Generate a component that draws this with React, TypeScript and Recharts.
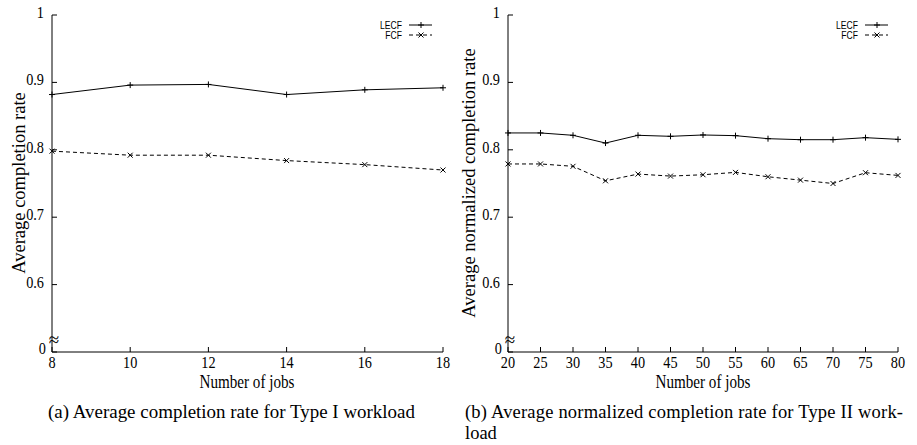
import React from 'react';
import { LineChart, Line, XAxis, YAxis } from 'recharts';

// ---------- data ----------
const jobsA = [8, 10, 12, 14, 16, 18];
const lecfA = [0.882, 0.896, 0.897, 0.882, 0.889, 0.892];
const fcfA = [0.798, 0.792, 0.792, 0.784, 0.778, 0.770];

const jobsB = [20, 25, 30, 35, 40, 45, 50, 55, 60, 65, 70, 75, 80];
const lecfB = [0.825, 0.825, 0.8215, 0.810, 0.8215, 0.820, 0.822, 0.821, 0.8165, 0.815, 0.815, 0.818, 0.8155];
const fcfB = [0.779, 0.779, 0.7755, 0.754, 0.764, 0.761, 0.763, 0.7665, 0.760, 0.755, 0.750, 0.766, 0.762];

const yTicks = [0.5, 0.6, 0.7, 0.8, 0.9, 1];
const xTicksA = [8, 10, 12, 14, 16, 18];
const xTicksB = [20, 25, 30, 35, 40, 45, 50, 55, 60, 65, 70, 75, 80];

const seriesNames = ['LECF', 'FCF'];

const rowsA = jobsA.map((j, i) => ({ jobs: j, lecf: lecfA[i], fcf: fcfA[i] }));
const rowsB = jobsB.map((j, i) => ({ jobs: j, lecf: lecfB[i], fcf: fcfB[i] }));

// ---------- styles ----------
const SERIF = "'Liberation Serif', 'Times New Roman', Times, serif";
const SANS = "'Liberation Sans', Arial, sans-serif";
const TICK = 5;
const TICK_FONT = 17;
const SX = 0.84; // horizontal squeeze of the figure text

const fmtY = (v: number) => (v === 0.5 ? '0' : v === 1 ? '1' : v.toFixed(1));

// text squeezed horizontally around its anchor point
const SText = ({ x, y, sx = SX, anchor = 'middle', size, family = SERIF, children }: any) => (
  <g transform={`translate(${x},${y}) scale(${sx},1)`}>
    <text x={0} y={0} textAnchor={anchor} style={{ fontFamily: family }} fontSize={size} fill="#000">
      {children}
    </text>
  </g>
);

const BottomTick = (p: any) => {
  const { x, y, payload } = p;
  return (
    <g>
      <line x1={x} y1={y} x2={x} y2={y - TICK} stroke="#000" />
      <SText x={x} y={y + 16} size={TICK_FONT}>{payload.value}</SText>
    </g>
  );
};
const TopTick = (p: any) => {
  const { x, y } = p;
  return <line x1={x} y1={y} x2={x} y2={y + TICK} stroke="#000" />;
};
const LeftTick = (p: any) => {
  const { x, y, payload } = p;
  const isZero = payload.value === 0.5;
  return (
    <g>
      <line x1={x} y1={y} x2={x + TICK} y2={y} stroke="#000" />
      <SText x={isZero ? x - 6 : x - 8} y={isZero ? y + 2 : y + 3} anchor="end" size={TICK_FONT}>
        {fmtY(payload.value)}
      </SText>
      {isZero && (
        <text x={x + 2} y={y - 6} textAnchor="middle" style={{ fontFamily: SERIF }} fontSize={19} fill="#000">
          ≈
        </text>
      )}
    </g>
  );
};
const RightTick = (p: any) => {
  const { x, y } = p;
  return <line x1={x} y1={y} x2={x - TICK} y2={y} stroke="#000" />;
};

const PlusDot = (p: any) => {
  const { cx, cy } = p;
  if (cx == null || cy == null) return <g />;
  const s = 3;
  return (
    <path d={`M${cx - s},${cy}H${cx + s}M${cx},${cy - s}V${cy + s}`} stroke="#000" strokeWidth={1} fill="none" />
  );
};
const CrossDot = (p: any) => {
  const { cx, cy } = p;
  if (cx == null || cy == null) return <g />;
  const s = 2.5;
  return (
    <path d={`M${cx - s},${cy - s}L${cx + s},${cy + s}M${cx - s},${cy + s}L${cx + s},${cy - s}`} stroke="#000" strokeWidth={1} fill="none" />
  );
};

type PanelProps = {
  rows: any[];
  xTicks: number[];
  width: number;
  yAxisWidth: number;
  marginRight: number;
};

const Panel = ({ rows, xTicks, width, yAxisWidth, marginRight }: PanelProps) => (
  <LineChart width={width} height={400} data={rows} margin={{ top: 15, right: marginRight, bottom: 0, left: 0 }}>
    <XAxis
      xAxisId="b"
      type="number"
      dataKey="jobs"
      domain={[xTicks[0], xTicks[xTicks.length - 1]]}
      ticks={xTicks}
      interval={0}
      height={48}
      stroke="#000"
      tickSize={0}
      tickMargin={0}
      tickLine={false}
      tick={(p: any) => <BottomTick {...p} />}
    />
    <XAxis
      xAxisId="t"
      orientation="top"
      type="number"
      dataKey="jobs"
      domain={[xTicks[0], xTicks[xTicks.length - 1]]}
      ticks={xTicks}
      interval={0}
      height={0}
      stroke="#000"
      tickSize={0}
      tickMargin={0}
      tickLine={false}
      tick={(p: any) => <TopTick {...p} />}
    />
    <YAxis
      yAxisId="l"
      domain={[0.5, 1]}
      ticks={yTicks}
      interval={0}
      width={yAxisWidth}
      stroke="#000"
      tickSize={0}
      tickMargin={0}
      tickLine={false}
      tick={(p: any) => <LeftTick {...p} />}
    />
    <YAxis
      yAxisId="r"
      orientation="right"
      domain={[0.5, 1]}
      ticks={yTicks}
      interval={0}
      width={0}
      stroke="#000"
      tickSize={0}
      tickMargin={0}
      tickLine={false}
      tick={(p: any) => <RightTick {...p} />}
    />
    <Line
      xAxisId="b"
      yAxisId="l"
      type="linear"
      dataKey="lecf"
      name={seriesNames[0]}
      stroke="#000"
      strokeWidth={1}
      dot={(p: any) => <PlusDot key={`p${p.index}`} {...p} />}
      activeDot={false}
      isAnimationActive={false}
    />
    <Line
      xAxisId="b"
      yAxisId="l"
      type="linear"
      dataKey="fcf"
      name={seriesNames[1]}
      stroke="#000"
      strokeWidth={1}
      strokeDasharray="4 3"
      dot={(p: any) => <CrossDot key={`c${p.index}`} {...p} />}
      activeDot={false}
      isAnimationActive={false}
    />
  </LineChart>
);

const LegendBox = ({ right, top }: { right: number; top: number }) => (
  <g>
    <SText x={right - 32} y={top + 3.5} anchor="end" size={10} family={SANS} sx={0.86}>{seriesNames[0]}</SText>
    <line x1={right - 25} y1={top} x2={right - 2} y2={top} stroke="#000" />
    <PlusDot cx={right - 13} cy={top} />
    <SText x={right - 32} y={top + 13.5} anchor="end" size={10} family={SANS} sx={0.86}>{seriesNames[1]}</SText>
    <line x1={right - 25} y1={top + 10} x2={right - 2} y2={top + 10} stroke="#000" strokeDasharray="4 3" />
    <CrossDot cx={right - 13} cy={top + 10} />
  </g>
);

export default function App() {
  return (
    <div style={{ position: 'absolute', left: 0, top: 0, width: 917, height: 445, background: '#fff' }}>
      <div style={{ position: 'absolute', left: 0, top: 0 }}>
        <Panel rows={rowsA} xTicks={xTicksA} width={458} yAxisWidth={52} marginRight={15} />
      </div>
      <div style={{ position: 'absolute', left: 457, top: 0 }}>
        <Panel rows={rowsB} xTicks={xTicksB} width={458} yAxisWidth={51} marginRight={17} />
      </div>
      <svg width={917} height={445} style={{ position: 'absolute', left: 0, top: 0, pointerEvents: 'none' }}>
        <LegendBox right={434} top={25} />
        <LegendBox right={890} top={25} />
        <g transform="translate(25,183) rotate(-90)">
          <text x={0} y={0} textAnchor="middle" style={{ fontFamily: SERIF }} fontSize={18.5} fill="#000">
            Average completion rate
          </text>
        </g>
        <g transform="translate(475,183) rotate(-90)">
          <text x={0} y={0} textAnchor="middle" style={{ fontFamily: SERIF }} fontSize={18.5} fill="#000">
            Average normalized completion rate
          </text>
        </g>
        <SText x={247} y={388} size={18}>Number of jobs</SText>
        <SText x={703} y={388} size={18}>Number of jobs</SText>
        <text x={48} y={418} style={{ fontFamily: SERIF }} fontSize={18.5} fill="#000" textLength={367} lengthAdjust="spacingAndGlyphs">
          (a)  Average completion rate for Type I workload
        </text>
        <text x={465} y={418} style={{ fontFamily: SERIF }} fontSize={18.5} fill="#000" textLength={438} lengthAdjust="spacing">
          (b)  Average normalized completion rate for Type II work-
        </text>
        <text x={465} y={439} style={{ fontFamily: SERIF }} fontSize={18.5} fill="#000">load</text>
      </svg>
    </div>
  );
}
